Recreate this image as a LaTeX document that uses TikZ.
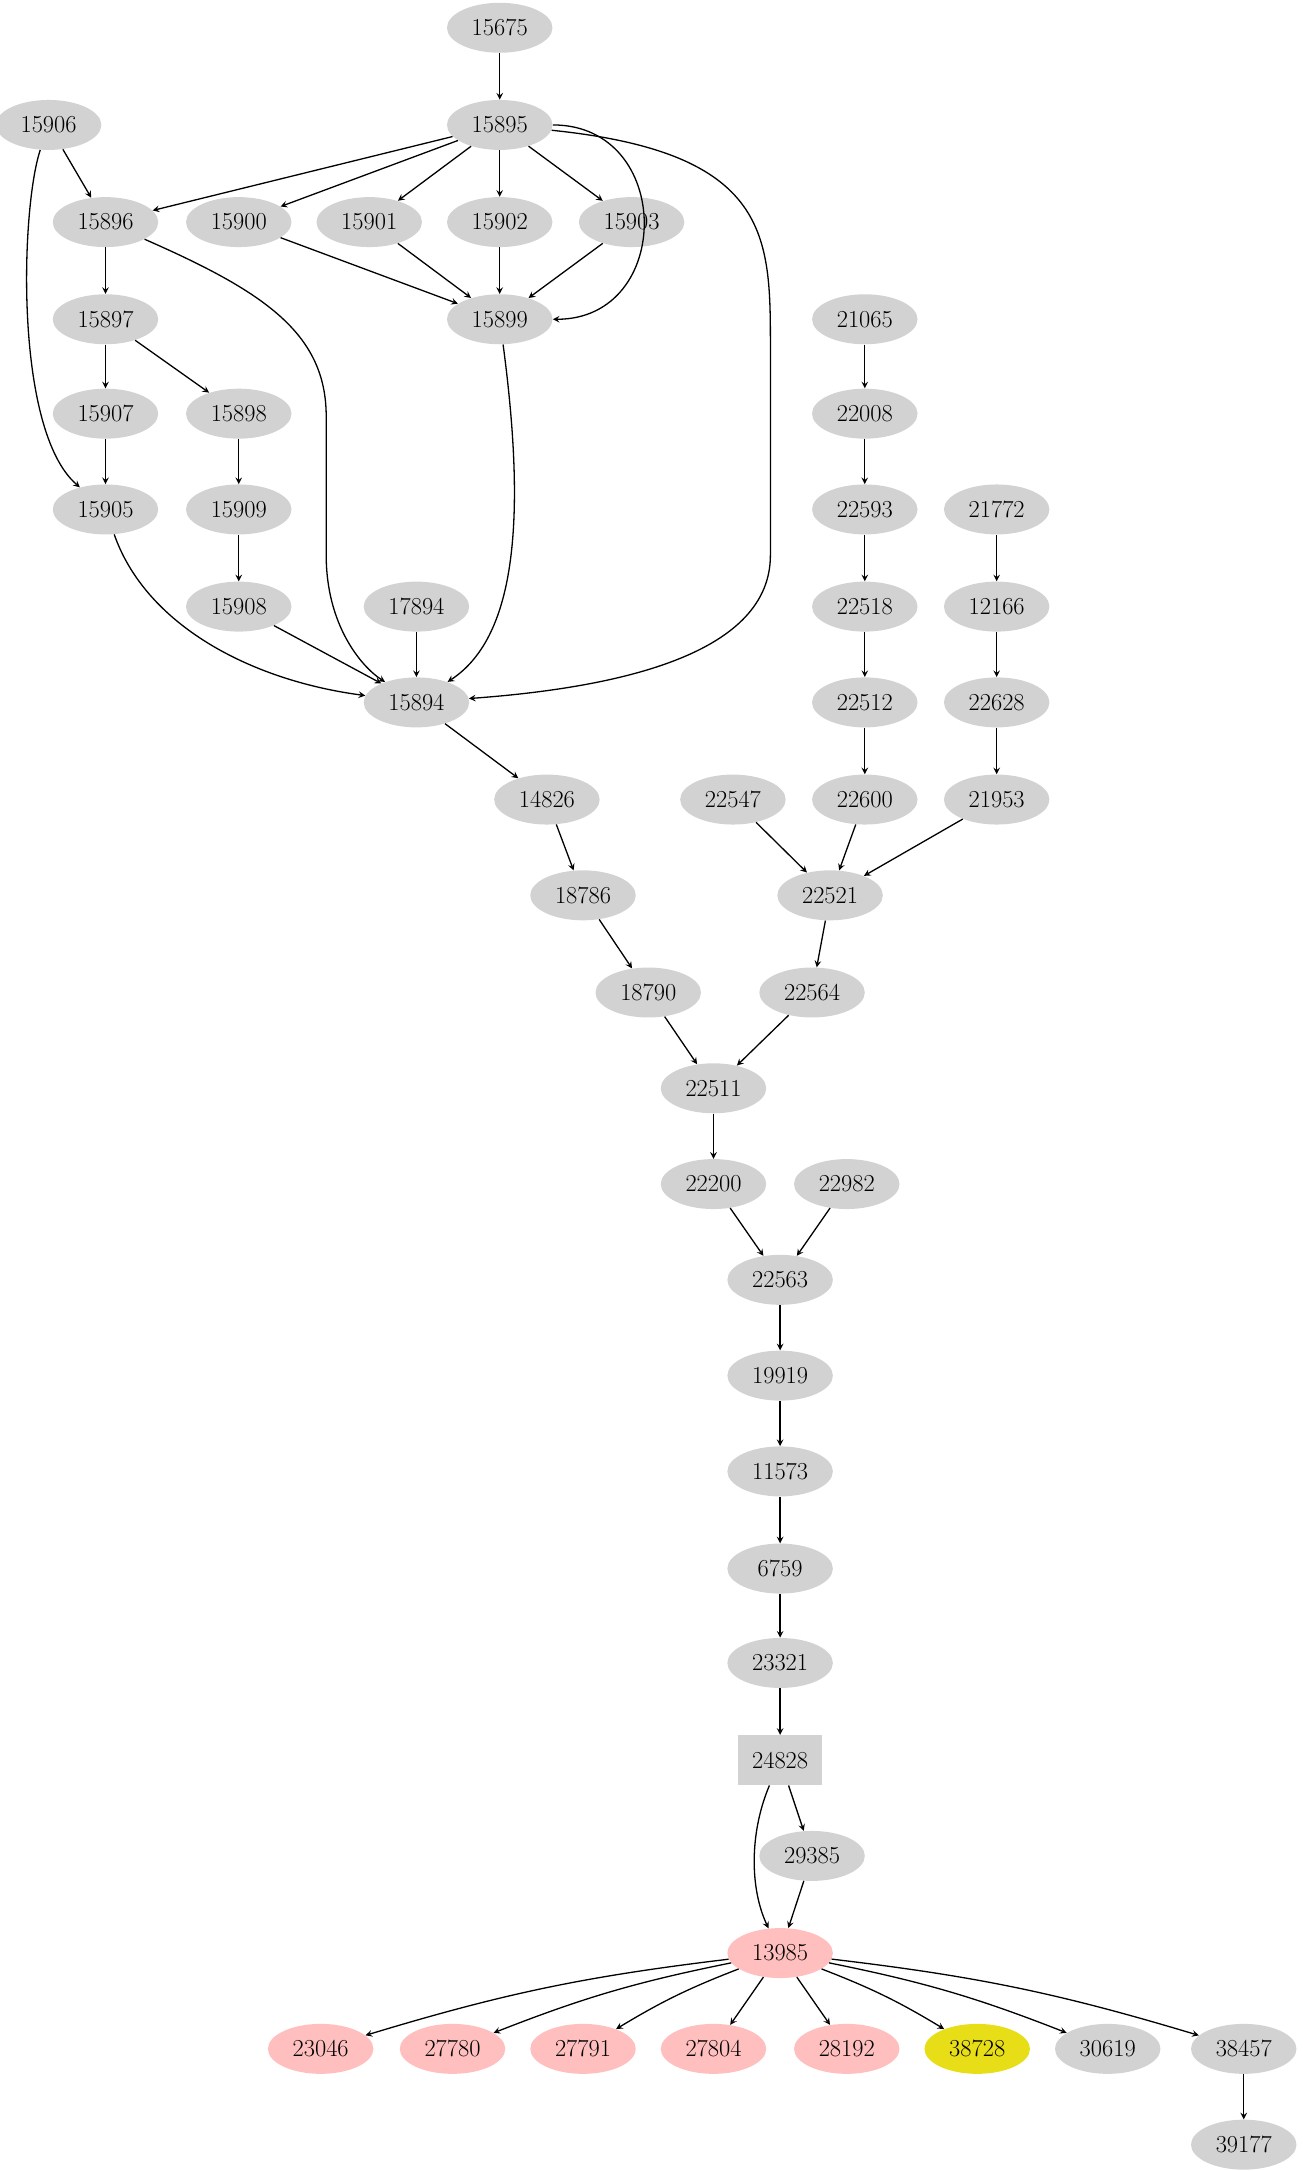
\documentclass[tikz,border=0pt]{standalone}
\usepackage{tikz}
\usetikzlibrary{shapes.geometric}
\begin{document}
\begin{tikzpicture}[x=0.03cm,y=-0.03cm,
        gnode/.style={ellipse,fill=gray!35,minimum width=2.28cm,minimum height=1.08cm,inner sep=0pt,font=\fontsize{15}{18}\selectfont},
        pnode/.style={gnode,fill=pink},
        ynode/.style={gnode,fill=yellow!90!black},
        bnode/.style={rectangle,fill=gray!35,minimum width=1.8cm,minimum height=1.08cm,inner sep=0pt,font=\fontsize{15}{18}\selectfont},
        edge/.style={-stealth,thick}
      ]
      \useasboundingbox (0,0) rectangle (938,1564);
      \foreach \name/\x/\y in {15675/360/20, 15895/360/90, 15906/35/90, 15896/76/160, 15900/172/160,
          15901/266/160, 15902/360/160, 15903/455/160, 15899/360/230, 21065/623/230, 15897/76/230,
          15907/76/298, 15898/172/298, 22008/623/298, 15905/76/367, 15909/172/367, 22593/623/367,
          21772/718/367, 15908/172/437, 17894/300/437, 22518/623/437, 12166/718/437, 15894/300/506,
          22512/623/506, 22628/718/506, 14826/394/576, 22547/528/576, 22600/623/576, 21953/718/576,
          18786/420/645, 22521/598/645, 18790/467/715, 22564/585/715, 22511/514/784, 22200/514/853,
          22982/610/853, 22563/562/922, 19919/562/991, 11573/562/1060, 6759/562/1130, 23321/562/1198,
          29385/585/1337, 30619/798/1476, 38457/896/1476, 39177/896/1545}
        \node [gnode] (n\name) at (\x,\y) {\name};
      \node [bnode] (n24828) at (562,1268) {24828};
      \node [pnode] (n13985) at (562,1407) {13985};
      \foreach \name/\x in {23046/231, 27780/326, 27791/420, 27804/514, 28192/610}
        \node [pnode] (n\name) at (\x,1476) {\name};
      \node [ynode] (n38728) at (704,1476) {38728};
      % straight edges
      \foreach \a/\b in {15675/15895, 15906/15896, 15895/15896, 15895/15900, 15895/15901, 15895/15902,
          15895/15903, 15900/15899, 15901/15899, 15902/15899, 15903/15899, 15896/15897, 15897/15907,
          15897/15898, 15907/15905, 15898/15909, 15909/15908, 15908/15894, 17894/15894, 15894/14826,
          14826/18786, 18786/18790, 18790/22511, 21065/22008, 22008/22593, 22593/22518, 22518/22512,
          22512/22600, 21772/12166, 12166/22628, 22628/21953, 22547/22521, 22600/22521, 21953/22521,
          22521/22564, 22564/22511, 22511/22200, 22200/22563, 22982/22563, 22563/19919, 19919/11573,
          11573/6759, 6759/23321, 23321/24828, 24828/29385, 29385/13985, 13985/27804, 13985/28192,
          38457/39177}
        \draw [edge] (n\a) -- (n\b);
      % curved edges
      \draw [edge] (n15895) to [out=0,in=0,looseness=1.6] (n15899);
      \draw [edge] (n15895) .. controls (555,110) and (555,170) .. (555,250)
        -- (555,400) .. controls (555,470) and (450,495) .. (n15894);
      \draw [edge] (n15896) .. controls (190,210) and (235,240) .. (235,300)
        -- (235,400) .. controls (235,450) and (260,480) .. (n15894);
      \draw [edge] (n15906) .. controls (15,150) and (10,310) .. (n15905);
      \draw [edge] (n15905) .. controls (105,450) and (180,490) .. (n15894);
      \draw [edge] (n15899) .. controls (380,380) and (370,460) .. (n15894);
      \draw [edge] (n24828) .. controls (540,1320) and (540,1360) .. (n13985);
      \foreach \b in {23046, 27780, 27791}
        \draw [edge] (n13985) to [bend right=5] (n\b);
      \foreach \b in {38728, 30619, 38457}
        \draw [edge] (n13985) to [bend left=5] (n\b);
    \end{tikzpicture}
\end{document}
